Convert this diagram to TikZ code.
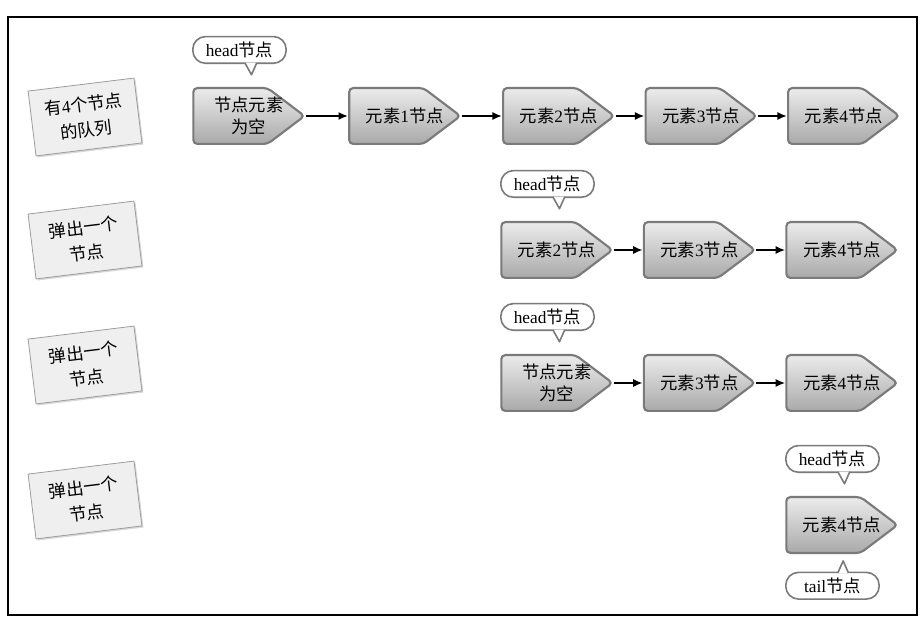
\documentclass[tikz,border=0pt]{standalone}
\usepackage{fontspec}
\setmainfont{Liberation Serif}
\newfontfamily\cjk{Noto Sans CJK SC}
\newcommand{\zh}[1]{{\cjk #1}}
\usepackage{tikz}
\usetikzlibrary{arrows.meta,positioning,shadows}
\definecolor{nodeedge}{HTML}{7A7A7A}
\definecolor{nodetop}{HTML}{EDEDED}
\definecolor{nodebottom}{HTML}{A8A8A8}
\definecolor{noteedge}{HTML}{9C9C9C}
\definecolor{notefill}{HTML}{EFEFEF}

\begin{document}
\begin{tikzpicture}[x=0.75pt,y=-0.75pt,node distance=21.5pt,>={Latex[length=7pt,width=6pt]},font=\fontsize{13pt}{17pt}\selectfont]

\tikzset{
elem/.style={
    rectangle,
    minimum width=85pt,
    minimum height=43.5pt,
    inner sep=1pt,
    align=center,
    anchor=west,
    path picture={
        \draw[draw=nodeedge,line width=1.6pt,rounded corners=3pt,top color=nodetop,bottom color=nodebottom]
            ([xshift=0.8pt]path picture bounding box.west)
            -- ([shift={(0.8pt,-0.8pt)}]path picture bounding box.north west)
            -- ([shift={(-28.5pt,-0.8pt)}]path picture bounding box.north east)
            -- ([xshift=-0.8pt]path picture bounding box.east)
            -- ([shift={(-28.5pt,0.8pt)}]path picture bounding box.south east)
            -- ([shift={(0.8pt,0.8pt)}]path picture bounding box.south west)
            -- cycle;
    }
},
tag/.style={
    rectangle,
    rounded corners=9.5pt,
    draw=nodeedge,
    line width=1.2pt,
    fill=white,
    minimum width=70pt,
    minimum height=20pt,
    inner xsep=4pt,
    inner ysep=1pt
},
ptr/.style={draw=nodeedge,line width=1.2pt,fill=white,line join=round},
note/.style={
    draw=noteedge,
    line width=0.6pt,
    fill=notefill,
    minimum width=80pt,
    minimum height=49pt,
    align=center,
    font=\fontsize{13pt}{19pt}\selectfont,
    rotate=7,
    drop shadow={shadow xshift=1.2pt,shadow yshift=-1.2pt,opacity=0.3}
},
a/.style={->,line width=1.1pt,color=black}
}

\useasboundingbox (0,0) rectangle (922,627);
\draw[line width=1.1pt] (8,17) rectangle (917,615);

% left column
\node[note] (q0) at (85,117) {\zh{有}4\zh{个节点}\\\zh{的队列}};
\node[note] (q1) at (85,240) {\zh{弹出一个}\\\zh{节点}};
\node[note] (q2) at (85,365) {\zh{弹出一个}\\\zh{节点}};
\node[note] (q3) at (85,500) {\zh{弹出一个}\\\zh{节点}};

% queue with 4 nodes
\node[elem] (e0) at (192,116) {\zh{节点元素}\\\zh{为空}};
\node[elem,right=31.5pt of e0] (e1) {\zh{元素}1\zh{节点}};
\node[elem,right=30pt of e1] (e2) {\zh{元素}2\zh{节点}};
\node[elem,right=of e2] (e3) {\zh{元素}3\zh{节点}};
\node[elem,right=of e3] (e4) {\zh{元素}4\zh{节点}};
\node[tag,above right=17pt and 0pt of e0.north west] (h0) {head\zh{节点}};
\path[ptr] ([xshift=4pt,yshift=1pt]h0.south) -- ([xshift=9pt,yshift=-8pt]h0.south) -- ([xshift=13pt,yshift=1pt]h0.south);

\draw[a] (e0) -- (e1);
\draw[a] (e1) -- (e2);
\draw[a] (e2) -- (e3);
\draw[a] (e3) -- (e4);

% first pop
\node[elem] (f2) at (500,250) {\zh{元素}2\zh{节点}};
\node[elem,right=of f2] (f3) {\zh{元素}3\zh{节点}};
\node[elem,right=of f3] (f4) {\zh{元素}4\zh{节点}};
\node[tag,above right=17pt and 0pt of f2.north west] (h1) {head\zh{节点}};
\path[ptr] ([xshift=4pt,yshift=1pt]h1.south) -- ([xshift=9pt,yshift=-8pt]h1.south) -- ([xshift=13pt,yshift=1pt]h1.south);

\draw[a] (f2) -- (f3);
\draw[a] (f3) -- (f4);

% second pop
\node[elem] (g2) at (500,383) {\zh{节点元素}\\\zh{为空}};
\node[elem,right=of g2] (g3) {\zh{元素}3\zh{节点}};
\node[elem,right=of g3] (g4) {\zh{元素}4\zh{节点}};
\node[tag,above right=17pt and 0pt of g2.north west] (h2) {head\zh{节点}};
\path[ptr] ([xshift=4pt,yshift=1pt]h2.south) -- ([xshift=9pt,yshift=-8pt]h2.south) -- ([xshift=13pt,yshift=1pt]h2.south);

\draw[a] (g2) -- (g3);
\draw[a] (g3) -- (g4);

% third pop
\node[elem] (k4) at (785,525) {\zh{元素}4\zh{节点}};
\node[tag,above right=17pt and 0pt of k4.north west] (h3) {head\zh{节点}};
\path[ptr] ([xshift=4pt,yshift=1pt]h3.south) -- ([xshift=9pt,yshift=-8pt]h3.south) -- ([xshift=13pt,yshift=1pt]h3.south);
\node[tag,below right=13pt and 0pt of k4.south west] (t3) {tail\zh{节点}};
\path[ptr] ([xshift=4pt,yshift=-1pt]t3.north) -- ([xshift=8pt,yshift=8pt]t3.north) -- ([xshift=12pt,yshift=-1pt]t3.north);

\end{tikzpicture}
\end{document}
